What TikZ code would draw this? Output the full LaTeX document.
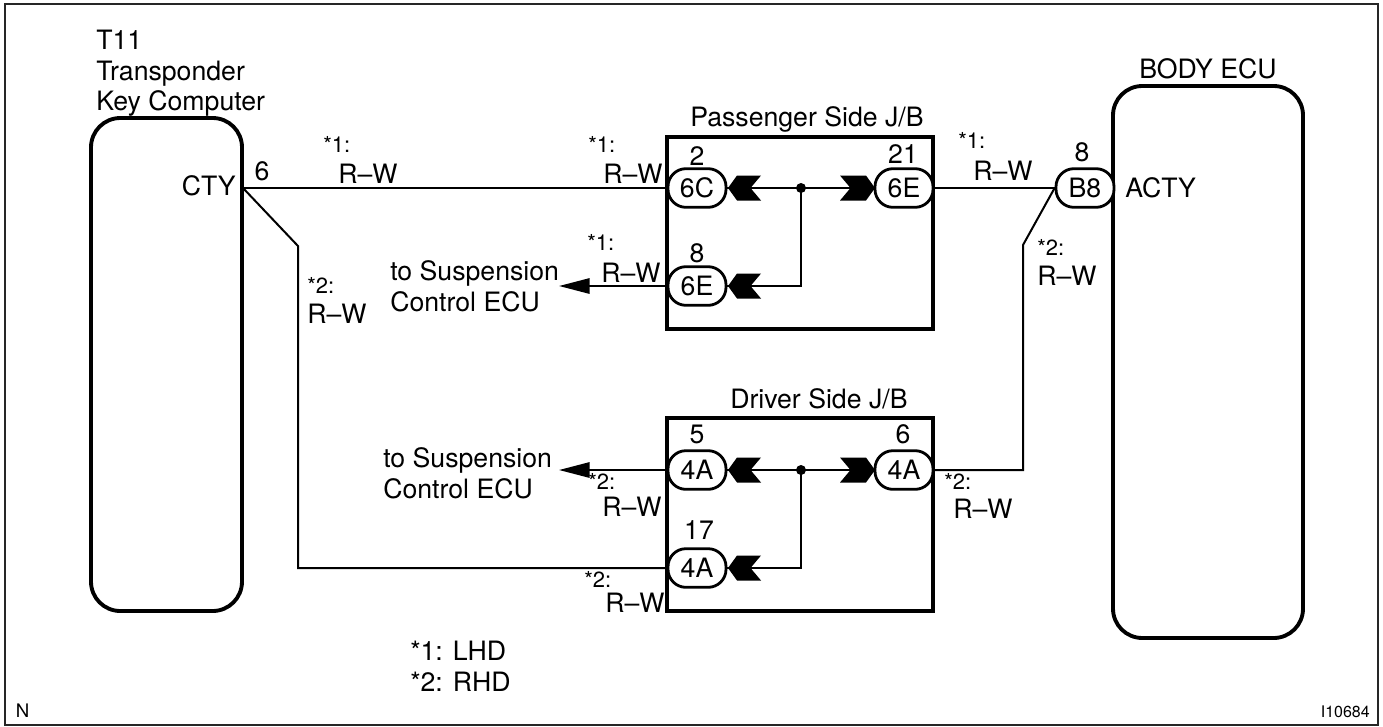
\documentclass[tikz,border=0pt]{standalone}
\usepackage{fontspec}
\setmainfont{TeX Gyre Heros}
\usetikzlibrary{arrows.meta}
\newcommand{\chevronL}[2]{\fill[black] (#1,#2) -- ++(9,-12.5) -- ++(24,0) -- ++(-10.5,12.5) -- ++(10.5,12.5) -- ++(-24,0) -- cycle;}
\newcommand{\chevronR}[2]{\fill[black] (#1,#2) -- ++(-9,-12.5) -- ++(-26,0) -- ++(10.5,12.5) -- ++(-10.5,12.5) -- ++(26,0) -- cycle;}
\tikzset{
  x=0.75pt,y=-0.75pt,
  frameline/.style={draw=black!85,line width=1.7pt},
  jb/.style={draw=black,line width=2.7pt},
  wire/.style={draw=black,line width=1.5pt},
  pill/.style={draw=black,line width=2.1pt,rounded corners=13.5pt,fill=white,minimum width=43.5pt,minimum height=29pt,inner sep=0pt,font=\fontsize{20pt}{20pt}\selectfont},
  lab/.style={anchor=base west,inner sep=0pt,font=\fontsize{20pt}{20pt}\selectfont},
  labc/.style={anchor=base,inner sep=0pt,font=\fontsize{20pt}{20pt}\selectfont},
  labr/.style={anchor=base east,inner sep=0pt,font=\fontsize{20pt}{20pt}\selectfont},
  star/.style={anchor=base west,inner sep=0pt,font=\fontsize{16.5pt}{16.5pt}\selectfont},
  tiny/.style={anchor=base west,inner sep=0pt,font=\fontsize{14pt}{14pt}\selectfont},
  arrowtip/.style={-{Triangle[length=23pt,width=11.5pt]}},
}
\begin{document}
\begin{tikzpicture}
\useasboundingbox (0,0) rectangle (1383,726);
\fill[white] (0,0) rectangle (1383,726);
\draw[frameline] (5,4) rectangle (1378,725);
% ECUs
\draw[draw=black,line width=2.9pt,rounded corners=22pt] (91,118) rectangle (242,611);
\draw[draw=black,line width=2.9pt,rounded corners=22pt] (1113,86) rectangle (1303,638);
% J/B boxes
\draw[jb] (667,137) rectangle (933,329);
\draw[jb] (667,418) rectangle (933,611);
% anchors
\coordinate (cty) at (243,188);
\coordinate (k1) at (298,246);
\coordinate (k2) at (298,568);
\coordinate (k3) at (1023,245);
\coordinate (k4) at (1023,470);
\coordinate (up) at (559,286);
\coordinate (lo) at (559,470);
\coordinate (j1) at (801,188);
\coordinate (j1b) at (801,286);
\coordinate (j2) at (801,470);
\coordinate (j2b) at (801,568);
% pills
\node[pill] (p6C) at (697,188) {6C};
\node[pill] (p21) at (904,188) {6E};
\node[pill] (p8) at (697,286) {6E};
\node[pill] (pB8) at (1085,188) {B8};
\node[pill] (d5) at (697,470) {4A};
\node[pill] (d6) at (904,470) {4A};
\node[pill] (d17) at (697,568) {4A};
% wires
\draw[wire] (cty) -- (p6C.west);
\draw[wire] (cty) -- (k1) -- (k2) -- (d17.west);
\draw[wire] (p21.east) -- (pB8.west);
\draw[wire] (pB8.west) -- (k3) -- (k4) -- (d6.east);
\draw[wire] (p6C.east) -- (p21.west);
\draw[wire] (j1) -- (j1b) -- (p8.east);
\draw[wire] (d5.east) -- (d6.west);
\draw[wire] (j2) -- (j2b) -- (d17.east);
\draw[wire,arrowtip] (p8.west) -- (up);
\draw[wire,arrowtip] (d5.west) -- (lo);
\fill (j1) circle (5);
\fill (j2) circle (5);
\chevronL{728}{188}
\chevronL{728}{286}
\chevronL{728}{470}
\chevronL{728}{568}
\chevronR{875}{188}
\chevronR{875}{470}
% texts
\node[lab] (t1) at (96,49) {T11};
\node[lab] (t2) at (96,80) {Transponder};
\node[lab] (t3) at (96,110) {Key Computer};
\node[labr] (t4) at (236,195) {CTY};
\node[labc] (t5) at (262,180) {6};
\node[star] (s1) at (323,152) {*1:};
\node[lab] (r1) at (338,183) {R–W};
\node[star] (s2) at (588,152) {*1:};
\node[lab] (r2) at (603,183) {R–W};
\node[star] (s3) at (587,250) {*1:};
\node[lab] (r3) at (601,282) {R–W};
\node[lab] (t6) at (690,126) {Passenger Side J/B};
\node[labc] (n2) at (697,165) {2};
\node[labc] (n21) at (903,163) {21};
\node[labc] (n8) at (697,262) {8};
\node[star] (s4) at (958,148) {*1:};
\node[lab] (r4) at (973,180) {R–W};
\node[labc] (n8b) at (1082,161) {8};
\node[lab] (t7) at (1125,197) {ACTY};
\node[star] (s5) at (1037,255) {*2:};
\node[lab] (r5) at (1037,285) {R–W};
\node[lab] (t8) at (1139,78) {BODY ECU};
\node[star] (s6) at (307,293) {*2:};
\node[lab] (r6) at (307,323) {R–W};
\node[lab] (t9) at (390,280) {to Suspension};
\node[lab] (t10) at (390,311) {Control ECU};
\node[lab] (t11) at (383,467) {to Suspension};
\node[lab] (t12) at (383,498) {Control ECU};
\node[lab] (t13) at (730,408) {Driver Side J/B};
\node[labc] (n5) at (697,443) {5};
\node[labc] (n6) at (903,443) {6};
\node[labc] (n17) at (699,539) {17};
\node[star] (s7) at (588,489) {*2:};
\node[lab] (r7) at (602,516) {R–W};
\node[star] (s8) at (584,587) {*2:};
\node[lab] (r8) at (605,612) {R–W};
\node[star] (s9) at (944,489) {*2:};
\node[lab] (r9) at (953,518) {R–W};
\node[lab] (l1) at (410,660) {*1: LHD};
\node[lab] (l2) at (410,691) {*2: RHD};
\node[tiny] (nn) at (15.5,717) {N};
\node[anchor=base east,inner sep=0pt,font=\fontsize{12pt}{12pt}\selectfont] (id) at (1370,717) {I10684};
\end{tikzpicture}
\end{document}
